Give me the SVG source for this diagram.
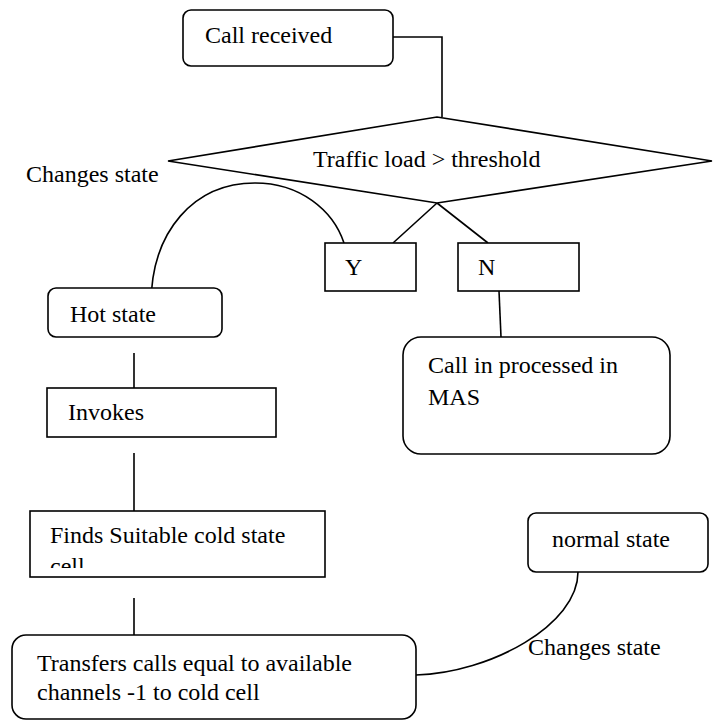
<svg xmlns="http://www.w3.org/2000/svg" width="716" height="723" viewBox="0 0 716 723">
<style>
.n{fill:#fff;stroke:#000;stroke-width:1.6}
.t{font-size:24px;fill:#000}
.c{fill:none;stroke:#000;stroke-width:1.6}
</style>
<defs><clipPath id="cf"><rect x="30" y="511" width="295" height="57"/></clipPath></defs>
<rect width="716" height="723" fill="#fff"/>
<g id="connectors">
<path class="c" d="M393,37 H442 V117"/>
<path class="c" d="M437,203 L393,243 M437,203 L488,243"/>
<path class="c" d="M499,291 L501,337"/>
<path class="c" d="M134,353 V388 M134,453 V511 M134,598 V644"/>
<path class="c" d="M151,305 C151,230 195,183 255,183 C300,183 333,210 344,243"/>
<path class="c" d="M416,675 C490,673 578,625 578,572"/>
</g>
<g font-family="'Liberation Serif', 'DejaVu Serif', serif">
<g id="call-received"><rect class="n" x="183" y="10" width="210" height="56" rx="8"/><text class="t" x="205" y="43">Call received</text></g>
<g id="decision"><polygon class="n" points="168,161 437,117 712,161 437,203"/><text class="t" x="313" y="167">Traffic load &gt; threshold</text></g>
<g id="label-changes-1"><text class="t" x="26" y="182">Changes state</text></g>
<g id="yes"><rect class="n" x="325" y="243" width="91" height="48"/><text class="t" x="345" y="275">Y</text></g>
<g id="no"><rect class="n" x="458" y="243" width="121" height="48"/><text class="t" x="478" y="275">N</text></g>
<g id="hot-state"><rect class="n" x="48" y="288" width="174" height="49" rx="8"/><text class="t" x="70" y="322">Hot state</text></g>
<g id="mas"><rect class="n" x="403" y="337" width="267" height="117" rx="18"/><text class="t" x="428" y="373">Call in processed in</text><text class="t" x="428" y="405">MAS</text></g>
<g id="invokes"><rect class="n" x="47" y="388" width="229" height="49"/><text class="t" x="68" y="420">Invokes</text></g>
<g id="finds"><rect class="n" x="30" y="511" width="295" height="66"/><text class="t" x="50" y="543">Finds Suitable cold state</text><text class="t" x="50" y="574" clip-path="url(#cf)">cell</text></g>
<g id="normal-state"><rect class="n" x="528" y="513" width="180" height="59" rx="8"/><text class="t" x="552" y="547">normal state</text></g>
<g id="transfers"><rect class="n" x="12" y="635" width="404" height="84" rx="14"/><text class="t" x="37" y="671">Transfers calls equal to available</text><text class="t" x="37" y="700">channels -1 to cold cell</text></g>
<g id="label-changes-2"><text class="t" x="528" y="655">Changes state</text></g>
</g>
</svg>
